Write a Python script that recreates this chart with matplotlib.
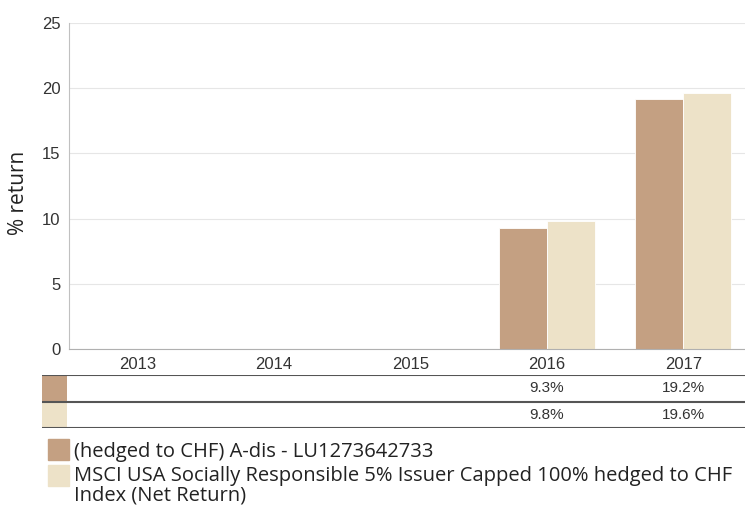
import matplotlib.pyplot as plt
import matplotlib.patches as mpatches
import numpy as np

plt.rcParams['font.family'] = ['Liberation Sans', 'DejaVu Sans']

# Calendar-year returns (blank = no data)
years = ['2013', '2014', '2015', '2016', '2017']
fund_returns = [np.nan, np.nan, np.nan, 9.3, 19.2]
index_returns = [np.nan, np.nan, np.nan, 9.8, 19.6]
series_names = ['(hedged to CHF) A-dis - LU1273642733',
                'MSCI USA Socially Responsible 5% Issuer Capped 100% hedged to CHF\nIndex (Net Return)']
y_ticks = [0, 5, 10, 15, 20, 25]

fund_color = '#c4a082'
index_color = '#ede2c8'
W, H = 745, 505

fig = plt.figure(figsize=(W / 100, H / 100), dpi=100)


def fx(px):
    return px / W


def fy(py):
    return 1 - py / H


# main bar chart
px_per_cat = 136.5
x_left_px, x_right_px = 69, 745
x_max = -0.5 + (x_right_px - x_left_px) / px_per_cat
ax = fig.add_axes([fx(x_left_px), fy(349), fx(x_right_px - x_left_px), (349 - 23) / H])
x = np.arange(len(years))
bw = 0.35
ax.bar(x - bw / 2, fund_returns, bw, color=fund_color, edgecolor='white', linewidth=0.6)
ax.bar(x + bw / 2, index_returns, bw, color=index_color, edgecolor='white', linewidth=0.6)
ax.set_xlim(-0.5, x_max)
ax.set_ylim(0, 25)
ax.set_yticks(y_ticks)
ax.set_xticks(x)
ax.set_xticklabels(years)
ax.tick_params(axis='both', length=0, labelsize=12, colors='#333333')
ax.tick_params(axis='y', pad=6)
ax.tick_params(axis='x', pad=6)
ax.grid(True, axis='y', color='#e6e6e6', linewidth=0.8)
ax.set_axisbelow(True)
for s in ['top', 'right']:
    ax.spines[s].set_visible(False)
ax.spines['left'].set_color('#c0c0c0')
ax.spines['bottom'].set_color('#b0b0b0')
fig.text(fx(18), fy(193), '% return', rotation=90, ha='center', va='center', fontsize=15,
         family=['Open Sans', 'DejaVu Sans'], color='#222222')

# data table under the chart
tab_left_px = 42
tab = fig.add_axes([fx(tab_left_px), fy(428), fx(W - tab_left_px), (428 - 375) / H])
tab.set_xlim(-0.5 - (x_left_px - tab_left_px) / px_per_cat, x_max)
tab.set_ylim(0, 2)
tab.axis('off')
sw_w = 25 / px_per_cat
x0 = tab.get_xlim()[0]
for row, (vals, col) in enumerate([(fund_returns, fund_color), (index_returns, index_color)]):
    y0 = 1 - row
    tab.add_patch(mpatches.Rectangle((x0, y0), sw_w, 1, color=col, lw=0))
    for xi, v in zip(x, vals):
        if not np.isnan(v):
            tab.text(xi, y0 + 0.5, f'{v:.1f}%', ha='center', va='center', fontsize=11, color='#333333')
for yl in [0, 1, 2]:
    tab.axhline(yl, color='#555555', linewidth=1.5)

# legend
for i, (name, col) in enumerate(zip(series_names, [fund_color, index_color])):
    top = 439 + i * 26
    fig.patches.append(mpatches.Rectangle((fx(48), fy(top + 21)), fx(21), 21 / H,
                                          color=col, transform=fig.transFigure, figure=fig))
    lines = name.split('\n')
    for j, line in enumerate(lines):
        fig.text(fx(74), fy(457 + i * 24 + j * 19), line, ha='left', va='baseline', fontsize=14.5,
                 family=['Open Sans', 'DejaVu Sans'], color='#222222')

fig.savefig('out.png', dpi=100)
